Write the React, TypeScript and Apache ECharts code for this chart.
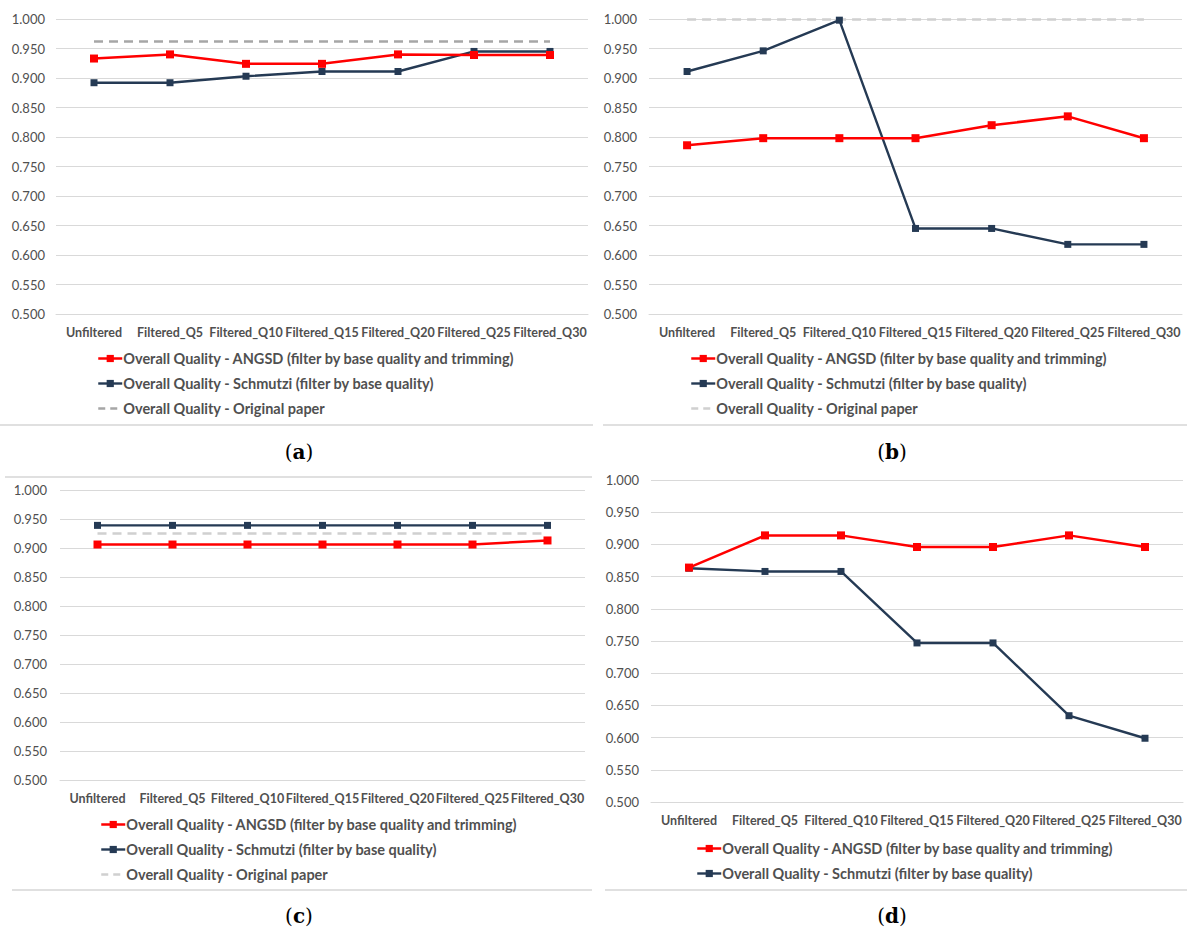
import React, { useEffect, useRef } from "react";
import * as echarts from "echarts";

const categories = ["Unfiltered", "Filtered_Q5", "Filtered_Q10", "Filtered_Q15", "Filtered_Q20", "Filtered_Q25", "Filtered_Q30"];
const yTicks = { min: 0.5, max: 1.0, interval: 0.05 };

const aAngsd = [0.933, 0.94, 0.924, 0.924, 0.94, 0.939, 0.939];
const aSchmutzi = [0.892, 0.892, 0.903, 0.911, 0.911, 0.945, 0.945];
const aOriginal = [0.962, 0.962, 0.962, 0.962, 0.962, 0.962, 0.962];

const bAngsd = [0.786, 0.798, 0.798, 0.798, 0.82, 0.835, 0.798];
const bSchmutzi = [0.911, 0.946, 0.998, 0.645, 0.645, 0.618, 0.618];
const bOriginal = [0.999, 0.999, 0.999, 0.999, 0.999, 0.999, 0.999];

const cAngsd = [0.906, 0.906, 0.906, 0.906, 0.906, 0.906, 0.913];
const cSchmutzi = [0.939, 0.939, 0.939, 0.939, 0.939, 0.939, 0.939];
const cOriginal = [0.925, 0.925, 0.925, 0.925, 0.925, 0.925, 0.925];

const dAngsd = [0.864, 0.914, 0.914, 0.896, 0.896, 0.914, 0.896];
const dSchmutzi = [0.863, 0.858, 0.858, 0.747, 0.747, 0.634, 0.599];

const NAME_A = "Overall Quality - ANGSD (filter by base quality and trimming)";
const NAME_S = "Overall Quality - Schmutzi (filter by base quality)";
const NAME_O = "Overall Quality - Original paper";
const captions = ["a", "b", "c", "d"];

const RED = "#FF0000";
const NAVY = "#253A54";
const FONT = "Lato, 'Open Sans', sans-serif";
const TXT = "#505050";
const GRIDC = "#D9D9D9";

export default function App() {
  const ref = useRef<HTMLDivElement>(null);
  useEffect(() => {
    if (!ref.current) return;
    const chart = echarts.init(ref.current, undefined, { renderer: "svg" });

    const grids = [
      { left: 56, top: 19, width: 532, height: 295 },
      { left: 649, top: 19, width: 533, height: 295 },
      { left: 60, top: 490, width: 525, height: 290 },
      { left: 651, top: 480, width: 532, height: 322 },
    ];
    const labelMargins = [11, 12, 13, 12];
    const panels = [
      { angsd: aAngsd, schm: aSchmutzi, orig: aOriginal, origColor: "#A6A6A6" },
      { angsd: bAngsd, schm: bSchmutzi, orig: bOriginal, origColor: "#D0D0D0" },
      { angsd: cAngsd, schm: cSchmutzi, orig: cOriginal, origColor: "#D0D0D0" },
      { angsd: dAngsd, schm: dSchmutzi, orig: null as number[] | null, origColor: "#D0D0D0" },
    ];
    const legendPos = [
      { left: 97, top: 351 },
      { left: 690, top: 351 },
      { left: 100, top: 817 },
      { left: 696, top: 841 },
    ];

    const series: any[] = [];
    panels.forEach((p, i) => {
      if (p.orig) {
        series.push({
          name: NAME_O, type: "line", xAxisIndex: i, yAxisIndex: i, data: p.orig,
          symbol: "none", lineStyle: { color: p.origColor, width: 2.5, type: [9, 6] },
          itemStyle: { color: p.origColor }, z: 1,
        });
      }
      series.push({
        name: NAME_S, type: "line", xAxisIndex: i, yAxisIndex: i, data: p.schm,
        symbol: "rect", symbolSize: 7, lineStyle: { color: NAVY, width: 2.4 },
        itemStyle: { color: NAVY }, z: 2,
      });
      series.push({
        name: NAME_A, type: "line", xAxisIndex: i, yAxisIndex: i, data: p.angsd,
        symbol: "rect", symbolSize: 8, lineStyle: { color: RED, width: 2.5 },
        itemStyle: { color: RED }, z: 3,
      });
    });

    const legends = panels.map((p, i) => {
      const data: any[] = [
        { name: NAME_A, lineStyle: { color: RED, width: 2.5 }, itemStyle: { color: RED } },
        { name: NAME_S, lineStyle: { color: NAVY, width: 2.4 }, itemStyle: { color: NAVY } },
      ];
      if (p.orig) {
        data.push({
          name: NAME_O,
          lineStyle: { color: p.origColor, width: 2.5, type: [7, 5] },
          itemStyle: { color: p.origColor, opacity: 0 },
        });
      }
      return {
        orient: "vertical", left: legendPos[i].left, top: legendPos[i].top,
        itemWidth: 24, itemHeight: 9, itemGap: 10, selectedMode: false, padding: 0,
        textStyle: { fontFamily: FONT, fontSize: 14.5, fontWeight: "bold", color: TXT, padding: [0, 0, 0, -4], lineHeight: 14 },
        data,
      };
    });

    const graphicEls: any[] = [];
    const captionPos = [
      { x: 299, y: 452 }, { x: 892, y: 452 }, { x: 299, y: 916 }, { x: 892, y: 916 },
    ];
    captions.forEach((c, i) => {
      graphicEls.push({
        type: "text", x: captionPos[i].x, y: captionPos[i].y,
        style: {
          text: "{p|(}{b|" + c + "}{p|)}", align: "center", verticalAlign: "middle",
          rich: {
            p: { fontFamily: "'DejaVu Serif', 'Liberation Serif', serif", fontSize: 20, fill: "#000" },
            b: { fontFamily: "'DejaVu Serif', 'Liberation Serif', serif", fontSize: 20, fontWeight: "bold", fill: "#000" },
          },
        },
      });
    });
    const sepLines = [
      [0, 425, 593, 425], [603, 425, 1187, 425],
      [5, 477, 592, 477],
      [12, 890, 592, 890], [605, 890, 1187, 890],
    ];
    sepLines.forEach((l) => {
      graphicEls.push({
        type: "line", shape: { x1: l[0], y1: l[1], x2: l[2], y2: l[3] },
        style: { stroke: "#D6D6D6", lineWidth: 1.5 },
      });
    });

    chart.setOption({
      animation: false,
      backgroundColor: "#fff",
      grid: grids,
      xAxis: grids.map((_, i) => ({
        type: "category", gridIndex: i, data: categories, boundaryGap: true,
        axisTick: { show: false },
        axisLine: { show: true, lineStyle: { color: GRIDC } },
        axisLabel: { interval: 0, margin: 12, fontFamily: FONT, fontSize: 12.5, fontWeight: "bold", color: TXT },
      })),
      yAxis: grids.map((_, i) => ({
        type: "value", gridIndex: i, min: yTicks.min, max: yTicks.max, interval: yTicks.interval,
        axisLine: { show: false }, axisTick: { show: false },
        splitLine: { lineStyle: { color: GRIDC, width: 1 } },
        axisLabel: {
          margin: labelMargins[i], fontFamily: FONT, fontSize: 13, color: TXT,
          formatter: (v: number) => v.toFixed(3),
        },
      })),
      legend: legends,
      series,
      graphic: graphicEls,
    });
    return () => chart.dispose();
  }, []);
  return <div ref={ref} style={{ position: "fixed", left: 0, top: 0, width: 1187, height: 929, background: "#fff" }} />;
}
